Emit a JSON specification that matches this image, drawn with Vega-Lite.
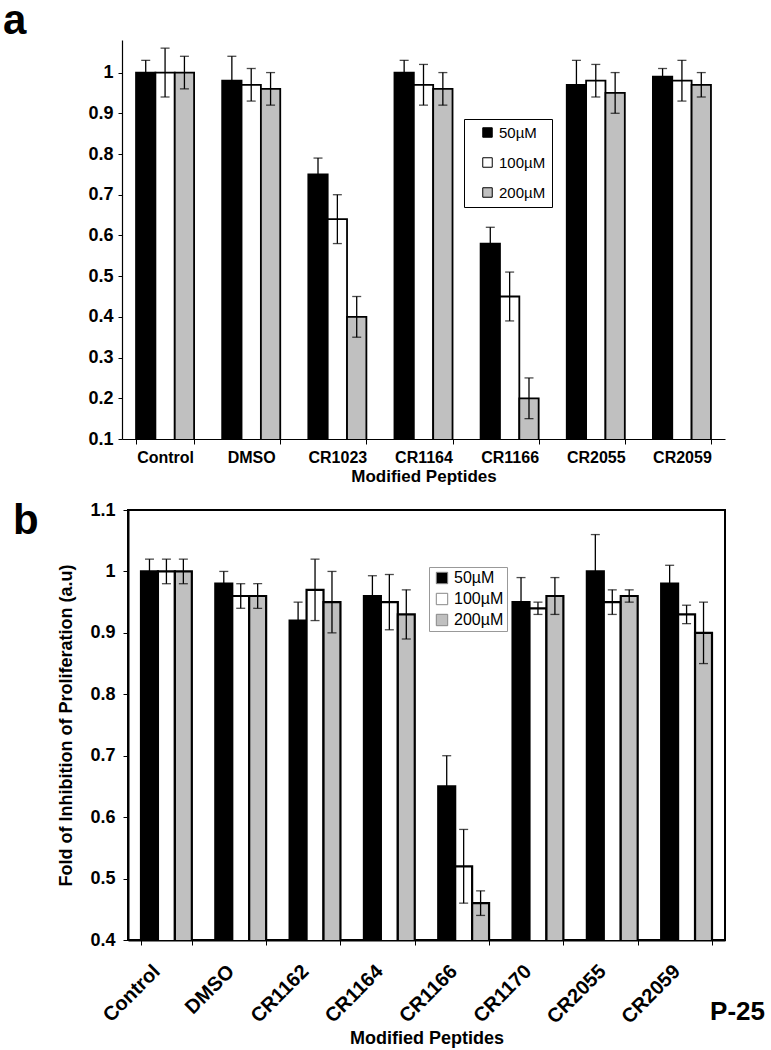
{
  "$schema": "https://vega.github.io/schema/vega-lite/v6.json",
  "background": "white",
  "padding": {"left": 3, "top": 0, "right": 0, "bottom": 0},
  "config": {"font": "Liberation Sans", "view": {"stroke": null}},
  "title": {"text": "P-25", "orient": "bottom", "anchor": "end", "fontSize": 26, "fontWeight": "bold", "color": "black", "dy": -54, "dx": 34},
  "datasets": {
    "a": [
      {"peptide": "Control", "conc": "50µM", "value": 1.0, "lo": 0.97, "hi": 1.03},
      {"peptide": "Control", "conc": "100µM", "value": 1.0, "lo": 0.94, "hi": 1.06},
      {"peptide": "Control", "conc": "200µM", "value": 1.0, "lo": 0.96, "hi": 1.04},
      {"peptide": "DMSO", "conc": "50µM", "value": 0.98, "lo": 0.92, "hi": 1.04},
      {"peptide": "DMSO", "conc": "100µM", "value": 0.97, "lo": 0.93, "hi": 1.01},
      {"peptide": "DMSO", "conc": "200µM", "value": 0.96, "lo": 0.92, "hi": 1.0},
      {"peptide": "CR1023", "conc": "50µM", "value": 0.75, "lo": 0.71, "hi": 0.79},
      {"peptide": "CR1023", "conc": "100µM", "value": 0.64, "lo": 0.58, "hi": 0.70},
      {"peptide": "CR1023", "conc": "200µM", "value": 0.40, "lo": 0.35, "hi": 0.45},
      {"peptide": "CR1164", "conc": "50µM", "value": 1.0, "lo": 0.97, "hi": 1.03},
      {"peptide": "CR1164", "conc": "100µM", "value": 0.97, "lo": 0.92, "hi": 1.02},
      {"peptide": "CR1164", "conc": "200µM", "value": 0.96, "lo": 0.92, "hi": 1.0},
      {"peptide": "CR1166", "conc": "50µM", "value": 0.58, "lo": 0.54, "hi": 0.62},
      {"peptide": "CR1166", "conc": "100µM", "value": 0.45, "lo": 0.39, "hi": 0.51},
      {"peptide": "CR1166", "conc": "200µM", "value": 0.20, "lo": 0.15, "hi": 0.25},
      {"peptide": "CR2055", "conc": "50µM", "value": 0.97, "lo": 0.91, "hi": 1.03},
      {"peptide": "CR2055", "conc": "100µM", "value": 0.98, "lo": 0.94, "hi": 1.02},
      {"peptide": "CR2055", "conc": "200µM", "value": 0.95, "lo": 0.90, "hi": 1.0},
      {"peptide": "CR2059", "conc": "50µM", "value": 0.99, "lo": 0.97, "hi": 1.01},
      {"peptide": "CR2059", "conc": "100µM", "value": 0.98, "lo": 0.93, "hi": 1.03},
      {"peptide": "CR2059", "conc": "200µM", "value": 0.97, "lo": 0.94, "hi": 1.0}
    ],
    "b": [
      {"peptide": "Control", "conc": "50µM", "value": 1.0, "lo": 0.98, "hi": 1.02},
      {"peptide": "Control", "conc": "100µM", "value": 1.0, "lo": 0.98, "hi": 1.02},
      {"peptide": "Control", "conc": "200µM", "value": 1.0, "lo": 0.98, "hi": 1.02},
      {"peptide": "DMSO", "conc": "50µM", "value": 0.98, "lo": 0.96, "hi": 1.0},
      {"peptide": "DMSO", "conc": "100µM", "value": 0.96, "lo": 0.94, "hi": 0.98},
      {"peptide": "DMSO", "conc": "200µM", "value": 0.96, "lo": 0.94, "hi": 0.98},
      {"peptide": "CR1162", "conc": "50µM", "value": 0.92, "lo": 0.89, "hi": 0.95},
      {"peptide": "CR1162", "conc": "100µM", "value": 0.97, "lo": 0.92, "hi": 1.02},
      {"peptide": "CR1162", "conc": "200µM", "value": 0.95, "lo": 0.90, "hi": 1.0},
      {"peptide": "CR1164", "conc": "50µM", "value": 0.96, "lo": 0.927, "hi": 0.993},
      {"peptide": "CR1164", "conc": "100µM", "value": 0.95, "lo": 0.905, "hi": 0.995},
      {"peptide": "CR1164", "conc": "200µM", "value": 0.93, "lo": 0.89, "hi": 0.97},
      {"peptide": "CR1166", "conc": "50µM", "value": 0.65, "lo": 0.60, "hi": 0.70},
      {"peptide": "CR1166", "conc": "100µM", "value": 0.52, "lo": 0.46, "hi": 0.58},
      {"peptide": "CR1166", "conc": "200µM", "value": 0.46, "lo": 0.44, "hi": 0.48},
      {"peptide": "CR1170", "conc": "50µM", "value": 0.95, "lo": 0.91, "hi": 0.99},
      {"peptide": "CR1170", "conc": "100µM", "value": 0.94, "lo": 0.93, "hi": 0.95},
      {"peptide": "CR1170", "conc": "200µM", "value": 0.96, "lo": 0.93, "hi": 0.99},
      {"peptide": "CR2055", "conc": "50µM", "value": 1.0, "lo": 0.94, "hi": 1.06},
      {"peptide": "CR2055", "conc": "100µM", "value": 0.95, "lo": 0.93, "hi": 0.97},
      {"peptide": "CR2055", "conc": "200µM", "value": 0.96, "lo": 0.95, "hi": 0.97},
      {"peptide": "CR2059", "conc": "50µM", "value": 0.98, "lo": 0.95, "hi": 1.01},
      {"peptide": "CR2059", "conc": "100µM", "value": 0.93, "lo": 0.915, "hi": 0.945},
      {"peptide": "CR2059", "conc": "200µM", "value": 0.90, "lo": 0.85, "hi": 0.95}
    ]
  },
  "bounds": "flush",
  "spacing": 71,
  "resolve": {"scale": {"color": "independent", "x": "independent", "y": "independent", "xOffset": "independent"}, "legend": {"color": "independent"}},
  "vconcat": [
    {
      "width": 597,
      "height": 399,
      "title": {"text": "a", "anchor": "start", "frame": "group", "fontSize": 42, "fontWeight": "bold", "color": "black", "dx": -125, "baseline": "alphabetic", "offset": 12, "dy": 48},
      "data": {"name": "a"},
      "encoding": {
        "x": {"field": "peptide", "type": "nominal", "sort": ["Control", "DMSO", "CR1023", "CR1164", "CR1166", "CR2055", "CR2059"],
          "scale": {"range": [-6, 597], "paddingInner": 0.326, "paddingOuter": 0.163},
          "axis": {"title": "Modified Peptides", "titleFontSize": 17, "titleFontWeight": "bold", "titleColor": "black", "titlePadding": 3,
            "labelAngle": 0, "labelFontSize": 16, "labelFontWeight": "bold", "labelColor": "black", "labelPadding": 5,
            "tickBand": "extent", "tickSize": 5, "tickColor": "black", "domainColor": "black", "domainWidth": 1.2}},
        "xOffset": {"field": "conc", "type": "nominal", "sort": ["50µM", "100µM", "200µM"], "scale": {"paddingInner": 0, "paddingOuter": 0}}
      },
      "layer": [
        {
          "mark": {"type": "bar", "stroke": "black", "strokeWidth": 1.8, "clip": true},
          "encoding": {
            "y": {"field": "value", "type": "quantitative", "scale": {"domain": [0.1, 1.08], "nice": false, "zero": false},
              "axis": {"title": null, "values": [0.1, 0.2, 0.3, 0.4, 0.5, 0.6, 0.7, 0.8, 0.9, 1.0], "format": ".1~f", "offset": 6, "grid": false,
                "labelFontSize": 18, "labelFontWeight": "bold", "labelColor": "black", "labelPadding": 5,
                "tickSize": 4, "tickColor": "black", "domainColor": "black", "domainWidth": 1.2}},
            "color": {"field": "conc", "type": "nominal", "sort": ["50µM", "100µM", "200µM"],
              "scale": {"range": ["#000000", "#ffffff", "#c0c0c0"]},
              "legend": {"orient": "none", "legendX": 336, "legendY": 79, "title": null, "strokeColor": "black", "fillColor": "white",
                "padding": 6, "rowPadding": 14, "symbolType": "square", "symbolSize": 90, "symbolStrokeColor": "black", "symbolStrokeWidth": 1,
                "symbolOffset": 10, "labelOffset": 4, "labelFontSize": 15, "labelColor": "black",
                "labelExpr": "datum.label + '\u00a0\u00a0\u00a0\u00a0'"}}
          }
        },
        {
          "mark": {"type": "rule", "color": "black", "strokeWidth": 1.3},
          "encoding": {"y": {"field": "lo", "type": "quantitative"}, "y2": {"field": "hi"}}
        },
        {
          "mark": {"type": "tick", "color": "black", "thickness": 1.3, "size": 9, "orient": "horizontal"},
          "encoding": {"y": {"field": "lo", "type": "quantitative"}}
        },
        {
          "mark": {"type": "tick", "color": "black", "thickness": 1.3, "size": 9, "orient": "horizontal"},
          "encoding": {"y": {"field": "hi", "type": "quantitative"}}
        }
      ]
    },
    {
      "width": 597,
      "height": 430,
      "view": {"stroke": "black", "strokeWidth": 2},
      "title": {"text": "b", "anchor": "start", "frame": "group", "fontSize": 42, "fontWeight": "bold", "color": "black", "dx": -115, "baseline": "alphabetic", "offset": 0, "dy": 75},
      "data": {"name": "b"},
      "encoding": {
        "x": {"field": "peptide", "type": "nominal", "sort": ["Control", "DMSO", "CR1162", "CR1164", "CR1166", "CR1170", "CR2055", "CR2059"],
          "scale": {"paddingInner": 0.316, "paddingOuter": 0.175},
          "axis": {"title": "Modified Peptides", "titleFontSize": 18, "titleFontWeight": "bold", "titleColor": "black", "titlePadding": 3,
            "labelAngle": -45, "labelAlign": "right", "labelBaseline": "middle", "labelFontSize": 20, "labelFontWeight": "bold", "labelColor": "black", "labelPadding": 23, "labelOffset": -10,
            "tickBand": "extent", "tickSize": 5, "tickColor": "black", "domainColor": "black", "domainWidth": 2}},
        "xOffset": {"field": "conc", "type": "nominal", "sort": ["50µM", "100µM", "200µM"], "scale": {"paddingInner": 0, "paddingOuter": 0}}
      },
      "layer": [
        {
          "mark": {"type": "bar", "stroke": "black", "strokeWidth": 2.2, "clip": true},
          "encoding": {
            "y": {"field": "value", "type": "quantitative", "scale": {"domain": [0.4, 1.1], "nice": false, "zero": false},
              "axis": {"title": "Fold of Inhibition of Proliferation (a.u)", "titleFontSize": 18, "titleFontWeight": "bold", "titleColor": "black", "titlePadding": 14,
                "values": [0.4, 0.5, 0.6, 0.7, 0.8, 0.9, 1.0, 1.1], "format": ".1~f", "grid": false,
                "labelFontSize": 18, "labelFontWeight": "bold", "labelColor": "black", "labelPadding": 8,
                "tickSize": 5, "tickColor": "black", "domainColor": "black", "domainWidth": 2}},
            "color": {"field": "conc", "type": "nominal", "sort": ["50µM", "100µM", "200µM"],
              "scale": {"range": ["#000000", "#ffffff", "#c0c0c0"]},
              "legend": {"orient": "none", "legendX": 301, "legendY": 57, "title": null, "strokeColor": "#999999", "fillColor": "white",
                "padding": 3, "rowPadding": 5, "symbolType": "square", "symbolSize": 130, "symbolStrokeColor": "#888888", "symbolStrokeWidth": 1,
                "symbolOffset": 2, "labelOffset": 4, "labelFontSize": 16, "labelColor": "black",
                "labelExpr": "datum.label + '\u00a0\u00a0\u00a0\u00a0'"}}
          }
        },
        {
          "mark": {"type": "rule", "color": "black", "strokeWidth": 1.3},
          "encoding": {"y": {"field": "lo", "type": "quantitative"}, "y2": {"field": "hi"}}
        },
        {
          "mark": {"type": "tick", "color": "black", "thickness": 1.3, "size": 9, "orient": "horizontal"},
          "encoding": {"y": {"field": "lo", "type": "quantitative"}}
        },
        {
          "mark": {"type": "tick", "color": "black", "thickness": 1.3, "size": 9, "orient": "horizontal"},
          "encoding": {"y": {"field": "hi", "type": "quantitative"}}
        }
      ]
    }
  ]
}
